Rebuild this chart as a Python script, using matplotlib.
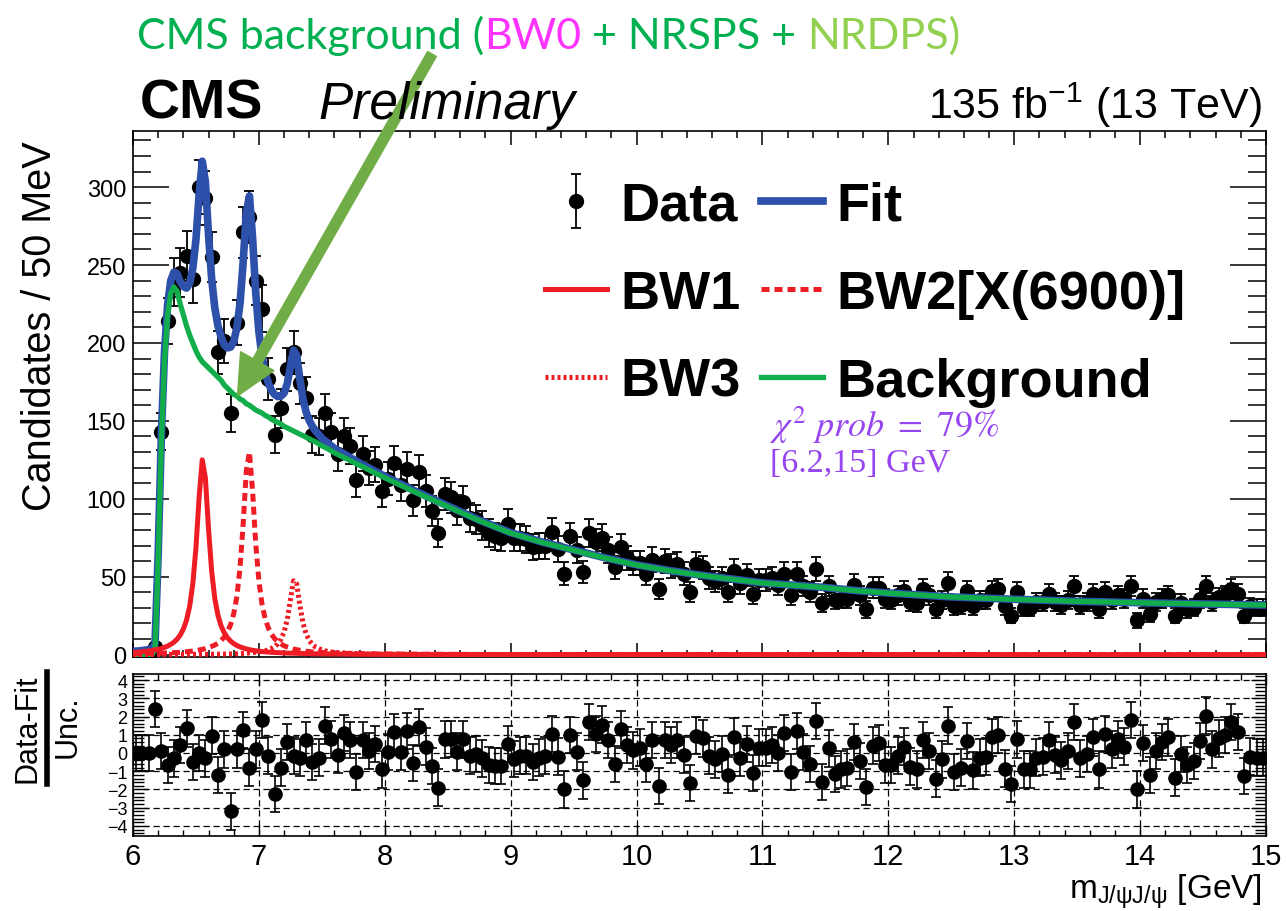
import numpy as np
import matplotlib
matplotlib.use("Agg")
import matplotlib.pyplot as plt
from matplotlib.lines import Line2D
from matplotlib.ticker import MultipleLocator

plt.rcParams["font.family"] = ["Liberation Sans", "DejaVu Sans"]
plt.rcParams["mathtext.fontset"] = "custom"
plt.rcParams["mathtext.rm"] = "Liberation Sans"
plt.rcParams["mathtext.it"] = "Liberation Sans:italic"
plt.rcParams["mathtext.bf"] = "Liberation Sans:bold"

# --- data: candidates per 50 MeV bin, 6.0 - 15.0 GeV ---
bin_width = 0.05
counts = [
    0, 0, 0, 5, 143, 214, 239, 245, 256, 241, 300, 293, 255, 194, 201, 155, 213, 271, 281, 240,
    222, 177, 141, 158, 183, 194, 174, 165, 141, 140, 155, 143, 129, 140, 134, 112, 129, 120, 122, 105,
    113, 123, 109, 119, 99, 117, 105, 92, 78, 103, 101, 93, 98, 88, 87, 83, 78, 76, 75, 84,
    75, 75, 74, 69, 70, 70, 79, 68, 52, 76, 67, 53, 78, 72, 75, 67, 56, 69, 62, 59,
    59, 52, 61, 42, 60, 57, 58, 52, 40, 58, 56, 49, 47, 49, 40, 54, 46, 51, 39, 48,
    48, 49, 45, 52, 38, 52, 44, 40, 55, 33, 44, 35, 36, 36, 45, 38, 29, 43, 43, 36,
    35, 38, 41, 34, 33, 42, 38, 29, 35, 46, 31, 32, 41, 31, 35, 35, 41, 42, 31, 25,
    40, 30, 30, 34, 34, 39, 34, 32, 35, 44, 32, 34, 39, 29, 40, 35, 38, 36, 44, 22,
    36, 26, 34, 36, 38, 25, 33, 29, 30, 36, 44, 34, 37, 38, 42, 39, 25, 31, 30, 30,
]
# (Data - Fit) / Unc. per bin
pulls = [
    0, 0, 0, 2.4, 0.1, -0.65, -0.3, 0.45, 1.35, -0.5, 0.0, -0.3, 0.95, -1.2, 0.2, -3.2, 0.2, 1.25, -0.8, 0.2,
    1.8, -0.15, -2.25, -0.8, 0.6, -0.15, -0.25, 0.7, -0.5, -0.25, 1.5, 0.75, -0.1, 1.1, 0.7, -1.05, 0.7, 0.1, 0.5, -0.9,
    0.05, 1.15, 0.05, 1.2, -0.55, 1.4, 0.35, -0.7, -1.9, 0.75, 0.77, 0.07, 0.75, -0.15, -0.05, -0.3, -0.65, -0.7, -0.7, 0.5,
    -0.33, -0.15, -0.15, -0.5, -0.25, -0.15, 1.05, -0.2, -2.0, 1.0, 0.07, -1.5, 1.7, 1.05, 1.55, 0.7, -0.6, 1.3, 0.45, 0.15,
    0.3, -0.6, 0.7, -1.8, 0.7, 0.45, 0.7, -0.1, -1.65, 0.95, 0.8, -0.15, -0.35, -0.05, -1.2, 0.9, -0.25, 0.5, -1.1, 0.3,
    0.3, 0.45, 0.0, 1.1, -1.05, 1.2, 0.05, -0.6, 1.75, -1.6, 0.25, -1.15, -0.9, -0.8, 0.6, -0.45, -1.85, 0.4, 0.55, -0.65,
    -0.65, -0.15, 0.35, -0.75, -0.9, 0.7, 0.1, -1.4, -0.35, 1.5, -1.05, -0.8, 0.65, -0.95, -0.25, -0.2, 0.85, 1.0, -0.85, -1.7,
    0.75, -0.9, -0.9, -0.25, -0.2, 0.7, -0.1, -0.4, 0.1, 1.7, -0.3, -0.05, 0.85, -0.9, 1.05, 0.2, 0.75, 0.35, 1.8, -2.0,
    0.55, -1.2, 0.1, 0.6, 0.85, -1.35, -0.05, -0.65, -0.45, 0.65, 2.05, 0.2, 0.8, 1.0, 1.7, 1.15, -1.25, -0.2, -0.25, -0.25,
]

# --- fit components read along the mass axis ---
curve_mass = [
    6.000, 6.050, 6.100, 6.125, 6.150, 6.175, 6.200, 6.225, 6.250, 6.275, 6.300, 6.325, 6.350, 6.375, 6.400,
    6.425, 6.450, 6.475, 6.500, 6.525, 6.550, 6.575, 6.600, 6.625, 6.650, 6.675, 6.700, 6.725, 6.750, 6.775,
    6.800, 6.825, 6.850, 6.875, 6.900, 6.925, 6.950, 6.975, 7.000, 7.025, 7.050, 7.075, 7.100, 7.125, 7.150,
    7.175, 7.200, 7.225, 7.250, 7.275, 7.300, 7.325, 7.350, 7.375, 7.400, 7.425, 7.450, 7.500, 7.550, 7.600,
    7.80, 8.00, 8.25, 8.50, 8.75, 9.00, 9.25, 9.50, 9.75, 10.00, 10.25, 10.50, 10.75, 11.00, 11.25, 11.50,
    11.75, 12.00, 12.50, 13.00, 13.50, 14.00, 14.50, 15.00,
]
bkg_curve = [
    0, 0, 0, 0, 0, 3, 60, 135, 188, 218, 232, 236, 233, 225, 218,
    211, 205, 200, 195, 191, 188, 186, 184, 182, 180, 178, 176, 173, 171, 169,
    167, 166, 164, 163, 161, 160, 158.5, 157, 156, 155, 153.5, 152.5, 151, 150, 149,
    148, 146.5, 145.5, 144.5, 143.5, 142.5, 141.5, 140.5, 139.5, 138.5, 137.5, 136.5, 134, 132, 129.5,
    121.5, 113.5, 104, 95, 86, 78, 72, 67, 62, 57.5, 54, 51, 48.5, 46, 44.5, 43,
    41, 39.5, 37, 35.5, 34.2, 33.3, 32.5, 31.8,
]
bw1_curve = [
    1.4, 1.7, 2.15, 2.4, 2.7, 3.1, 3.5, 4.0, 4.7, 5.5, 6.6, 8.0, 9.9, 12.6, 16.4,
    22.1, 31.0, 45.3, 68.5, 100.8, 125.0, 113.4, 80.6, 53.4, 35.9, 25.2, 18.4, 14.0, 10.9, 8.7,
    7.1, 5.9, 5.0, 4.3, 3.7, 3.2, 2.8, 2.5, 2.25, 2.0, 1.8, 1.66, 1.5, 1.4, 1.3,
    1.2, 1.1, 1.0, 0.95, 0.9, 0.85, 0.8, 0.75, 0.7, 0.65, 0.6, 0.57, 0.5, 0.45, 0.41,
    0.3, 0.22, 0.15, 0.12, 0.1, 0.08, 0.07, 0.06, 0.05, 0.05, 0.04, 0.04, 0.03, 0.03, 0.03, 0.03,
    0.02, 0.02, 0.02, 0.02, 0.01, 0.01, 0.01, 0.01,
]
bw2_curve = [
    0.6, 0.6, 0.7, 0.72, 0.77, 0.82, 0.9, 0.96, 1.05, 1.1, 1.2, 1.3, 1.4, 1.5, 1.7,
    1.9, 2.1, 2.3, 2.6, 3.0, 3.4, 3.9, 4.5, 5.3, 6.2, 7.4, 9.1, 11.3, 14.5, 19.2,
    26.2, 37.3, 55.5, 83.8, 117.9, 130.0, 104.8, 71.2, 47.1, 32.3, 23.0, 17.1, 13.1, 10.3, 8.3,
    6.9, 5.7, 4.9, 4.2, 3.6, 3.2, 2.8, 2.5, 2.2, 2.0, 1.8, 1.65, 1.4, 1.2, 1.0,
    0.6, 0.4, 0.3, 0.2, 0.15, 0.12, 0.1, 0.08, 0.07, 0.06, 0.05, 0.05, 0.04, 0.04, 0.03, 0.03,
    0.03, 0.02, 0.02, 0.02, 0.01, 0.01, 0.01, 0.01,
]
bw3_curve = [
    0.1, 0.1, 0.1, 0.1, 0.12, 0.12, 0.13, 0.13, 0.14, 0.14, 0.15, 0.15, 0.16, 0.16, 0.17,
    0.17, 0.18, 0.19, 0.2, 0.21, 0.22, 0.23, 0.25, 0.27, 0.3, 0.32, 0.35, 0.38, 0.42, 0.46,
    0.5, 0.57, 0.65, 0.8, 0.98, 1.1, 1.3, 1.5, 1.76, 2.1, 2.5, 3.1, 4.0, 5.2, 7.0,
    9.8, 14.5, 22.4, 34.9, 47.4, 45.6, 32.0, 20.4, 13.3, 9.1, 6.6, 4.9, 3.0, 2.0, 1.45,
    0.55, 0.35, 0.2, 0.14, 0.1, 0.08, 0.07, 0.06, 0.05, 0.04, 0.04, 0.03, 0.03, 0.03, 0.02, 0.02,
    0.02, 0.01, 0.01, 0.01, 0.01, 0.01, 0.01, 0.01,
]

mass = 6.0 + bin_width * (np.arange(len(counts)) + 0.5)
counts = np.array(counts, dtype=float)
stat_err = np.sqrt(counts)
fit_curve = np.array(bkg_curve) + np.array(bw1_curve) + np.array(bw2_curve) + np.array(bw3_curve)

RED = "#EE1C25"
BLUE = "#2D50AA"
GREEN = "#12AE4B"

W, H = 1286, 912
fig = plt.figure(figsize=(W / 100, H / 100), dpi=100)
ax = fig.add_axes([133 / W, 1 - 658 / H, 1133 / W, 526 / H])
ax2 = fig.add_axes([133 / W, 1 - 837 / H, 1133 / W, 162 / H])

# --- upper pad ---
data_h = ax.errorbar(mass, counts, yerr=stat_err, fmt="o", color="black", ms=10,
                     elinewidth=1.3, capsize=3.6, capthick=1.3, zorder=2)
fit_h, = ax.plot(curve_mass, fit_curve, color=BLUE, lw=5.5, zorder=3)
bkg_h, = ax.plot(curve_mass, bkg_curve, color=GREEN, lw=3.8, zorder=4)
bw1_h, = ax.plot(curve_mass, bw1_curve, color=RED, lw=3.6, zorder=5)
bw2_h, = ax.plot(curve_mass, bw2_curve, color=RED, lw=3.6, ls=(0, (1.6, 1.0)), zorder=5)
bw3_h, = ax.plot(curve_mass, bw3_curve, color=RED, lw=3.6, ls=(0, (0.6, 0.6)), zorder=5)

ax.legend([data_h, bw1_h, bw3_h, fit_h, bw2_h, bkg_h],
          ["Data", "BW1", "BW3", "Fit", "BW2[X(6900)]", "Background"],
          ncol=2, loc="upper left", bbox_to_anchor=(0.3636, 0.905), frameon=False,
          prop=dict(family="Liberation Sans", weight="bold", size=39),
          handlelength=1.15, handletextpad=0.24, columnspacing=0.37,
          labelspacing=0.7, borderpad=0, borderaxespad=0)

ax.set_xlim(6, 15)
ax.set_ylim(-1.5, 336)
ax.xaxis.set_major_locator(MultipleLocator(1))
ax.xaxis.set_minor_locator(MultipleLocator(0.2))
ax.yaxis.set_major_locator(MultipleLocator(50))
ax.yaxis.set_minor_locator(MultipleLocator(10))
ax.tick_params(axis="both", which="both", direction="in", top=True, right=True,
               labelbottom=False, width=1.1)
ax.tick_params(axis="x", which="major", length=10)
ax.tick_params(axis="x", which="minor", length=5)
ax.tick_params(axis="y", which="major", length=26, labelsize=17, pad=5)
ax.tick_params(axis="y", which="minor", length=13)
for s in ax.spines.values():
    s.set_linewidth(1.2)

# chi2 note
PURPLE = "#9646F0"
ax.text(11.06, 148, r"$\chi^2\ prob\ =\ 79\%$", math_fontfamily="stix", color=PURPLE,
        fontsize=26, va="center", ha="left", zorder=6)
ax.text(11.06, 123, "[6.2,15] GeV", family="Liberation Serif", color=PURPLE,
        fontsize=24.5, va="center", ha="left", zorder=6)

# --- lower pad: pulls ---
ax2.errorbar(mass, pulls, yerr=1.0, fmt="o", color="black", ms=9.5,
             elinewidth=1.2, capsize=3.4, capthick=1.2, zorder=3)
ax2.set_xlim(6, 15)
ax2.set_ylim(-4.55, 4.33)
ax2.xaxis.set_major_locator(MultipleLocator(1))
ax2.xaxis.set_minor_locator(MultipleLocator(0.2))
ax2.yaxis.set_major_locator(MultipleLocator(1))
ax2.yaxis.set_minor_locator(MultipleLocator(0.2))
ax2.grid(True, which="major", color="black", lw=0.9, ls=(0, (5, 3)))
ax2.tick_params(axis="both", which="both", direction="in", top=True, right=True, width=1.0)
ax2.tick_params(axis="x", which="major", length=8, labelsize=21, pad=4)
ax2.tick_params(axis="x", which="minor", length=4)
ax2.tick_params(axis="y", which="major", length=11, labelsize=13, pad=4)
ax2.tick_params(axis="y", which="minor", length=8)
for s in ax2.spines.values():
    s.set_linewidth(1.2)

# --- labels ---
fig.text(40 / W, 1 - 326 / H, "Candidates / 50 MeV", rotation=90, fontsize=28.5,
         ha="center", va="center")
fig.text(28 / W, 1 - 729 / H, "Data-Fit", rotation=90, fontsize=22, ha="center", va="center")
fig.text(68 / W, 1 - 727 / H, "Unc.", rotation=90, fontsize=22, ha="center", va="center")
fig.add_artist(Line2D([47 / W, 47 / W], [1 - 673 / H, 1 - 785 / H], color="black", lw=4,
                      transform=fig.transFigure))
fig.text(1262 / W, 1 - 892 / H, r"m$_{\mathrm{J/\psi J/\psi}}$ [GeV]", fontsize=24,
         ha="right", va="center")

fig.text(140 / W, 1 - 119 / H, "CMS", fontsize=40, weight="bold", ha="left", va="baseline")
fig.text(318 / W, 1 - 119 / H, "Preliminary", fontsize=37, style="italic", ha="left", va="baseline")
fig.text(1262 / W, 1 - 119 / H, r"135 fb$^{\mathregular{-1}}$ (13 TeV)", fontsize=31,
         ha="right", va="baseline")

# --- annotation on top ---
pieces = [("CMS background (", "#00B050", 0), ("BW0", "#FF33FF", 0),
          ("+ NRSPS +", "#00B050", 8), ("NRDPS)", "#92D050", 8)]
prev = fig.text(137 / W, 1 - 56 / H, pieces[0][0], color=pieces[0][1], fontsize=31,
                family="Lato", ha="left", va="bottom")
for txt, col, gap in pieces[1:]:
    prev = ax.annotate(txt, xy=(1, 0), xycoords=prev, xytext=(gap, 0), textcoords="offset points",
                       color=col, fontsize=31, family="Lato", ha="left", va="bottom",
                       annotation_clip=False)

ax.annotate("", xy=(6.83, 166), xycoords="data", xytext=(432 / W, 1 - 55 / H),
            textcoords="figure fraction", annotation_clip=False,
            arrowprops=dict(arrowstyle="simple,head_length=1.2,head_width=1.15,tail_width=0.3",
                            mutation_scale=24, color="#70AD47", shrinkA=0, shrinkB=0), zorder=7)

fig.savefig("out.png", dpi=100)
